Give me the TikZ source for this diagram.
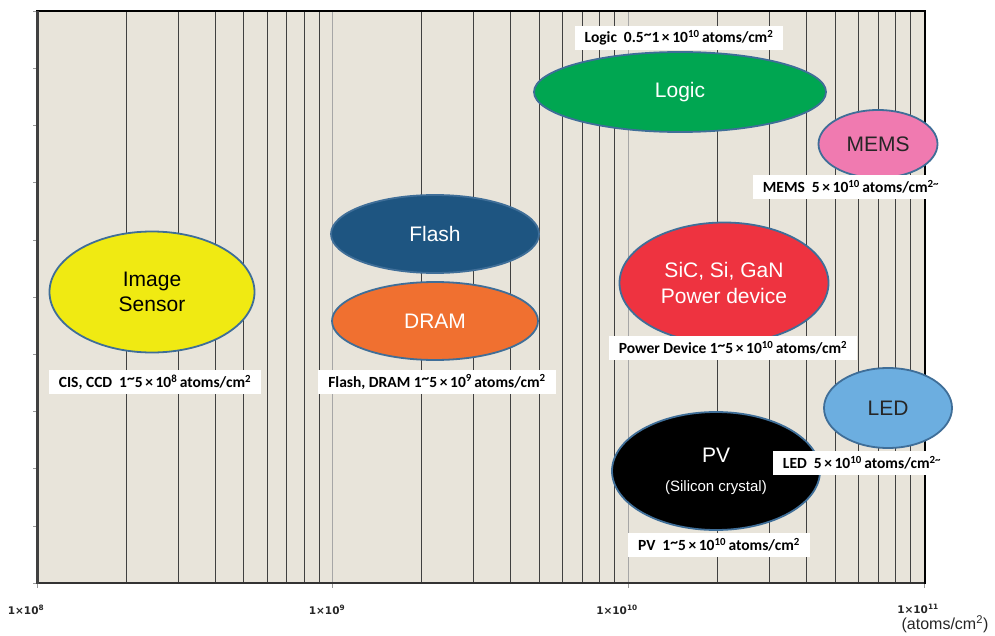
\documentclass[tikz,border=0pt]{standalone}
\usepackage{fontspec}
\setmainfont{Liberation Sans}
\newfontfamily\lblfont{Carlito}
\newfontfamily\axfont{DejaVu Sans}
\usetikzlibrary{shapes.geometric}
\definecolor{plotbg}{HTML}{E8E4DA}
\definecolor{edgeblue}{HTML}{3F6E98}
\definecolor{sensoryellow}{HTML}{F0EA12}
\definecolor{flashblue}{HTML}{1E5581}
\definecolor{dramorange}{HTML}{F07030}
\definecolor{logicgreen}{HTML}{00A651}
\definecolor{memspink}{HTML}{F07AB0}
\definecolor{powerred}{HTML}{EE3340}
\definecolor{ledblue}{HTML}{6CAEE0}
\newcommand\wave{\raisebox{0.45ex}{\textasciitilde}}

\begin{document}
\begin{tikzpicture}[x=1pt,y=-1pt,
	blob/.style={ellipse, draw=edgeblue, line width=1.8pt, inner sep=0pt, align=center,
		font=\fontsize{21}{25}\selectfont},
	tag/.style={fill=white, inner xsep=10pt, minimum height=24pt,
		font=\lblfont\bfseries\fontsize{15.5}{17}\selectfont},
	axlbl/.style={font=\axfont\bfseries\fontsize{10.5}{13}\selectfont, text=black!85}]
	\useasboundingbox (0,0) rectangle (995,636);
	\fill[plotbg] (37,11) rectangle (925,583);
	% grid, one decade = 295.7
	\foreach \d in {0,1,2} {
		\foreach \k in {2,...,9} {
			\draw[black!75, line width=0.9pt] ({37+295.7*(\d+log10(\k))},11) -- ({37+295.7*(\d+log10(\k))},583);
		}
	}
	\draw[black!35, line width=0.8pt] (332,11) -- (332,583);
	\draw[black!35, line width=0.8pt] (628,11) -- (628,583);
	\foreach \i in {0,...,10} {
		\draw[black!40] (33,{11+57.2*\i}) -- (37,{11+57.2*\i});
	}
	\foreach \x in {37,332,628,924} {
		\draw[black!40] (\x,583) -- (\x,588);
	}
	\draw[line width=2.5pt] (36,11) -- (926,11);
	\draw[black!80, line width=2pt] (37,583) -- (925,583);
	\draw[black!75, line width=3pt] (37,11) -- (37,584);
	\draw[line width=2.5pt] (925,11) -- (925,584);

	\node[blob, fill=sensoryellow, minimum width=205, minimum height=121] (sensor) at (152,292) {Image\\Sensor};
	\node[blob, fill=flashblue, text=white, minimum width=208, minimum height=78] (flash) at (435,234) {Flash};
	\node[blob, fill=dramorange, text=white, minimum width=206, minimum height=78] (dram) at (435,321) {DRAM};
	\node[blob, fill=logicgreen, text=white, minimum width=292, minimum height=80] (logic) at (680,92) {Logic};
	\node[blob, fill=memspink, text=black!85, minimum width=119, minimum height=68] (mems) at (878,144) {MEMS};
	\node[blob, fill=powerred, text=white, minimum width=209, minimum height=121,
		font=\fontsize{21}{26}\selectfont] (power) at (724,283) {SiC, Si, GaN\\Power device};
	\node[blob, fill=ledblue, text=black!85, minimum width=128, minimum height=80] (led) at (888,408) {LED};
	\node[blob, fill=black, text=white, minimum width=208, minimum height=118] (pv) at (716,471)
		{PV\\[4pt]{\fontsize{15}{17}\selectfont (Silicon crystal)}};

	\node[tag] (logictag) at (679,38) {Logic~~0.5\wave1\,×\,10\textsuperscript{10}\,atoms/cm\textsuperscript{2}};
	\node[tag] (memstag) at (851,187) {MEMS~~5\,×\,10\textsuperscript{10}\,atoms/cm\textsuperscript{2\textasciitilde}};
	\node[tag] (sensortag) at (155,382) {CIS, CCD~~1\wave5\,×\,10\textsuperscript{8}\,atoms/cm\textsuperscript{2}};
	\node[tag] (memorytag) at (437,382) {Flash, DRAM 1\wave5\,×\,10\textsuperscript{9}\,atoms/cm\textsuperscript{2}};
	\node[tag] (powertag) at (733,348) {Power Device 1\wave5\,×\,10\textsuperscript{10}\,atoms/cm\textsuperscript{2}};
	\node[tag] (ledtag) at (862,463) {LED~~5\,×\,10\textsuperscript{10}\,atoms/cm\textsuperscript{2\textasciitilde}};
	\node[tag] (pvtag) at (719,545) {PV~~1\wave5\,×\,10\textsuperscript{10}\,atoms/cm\textsuperscript{2}};

	\node[axlbl] (e8) at (26,610) {1×10\textsuperscript{8}};
	\node[axlbl] (e9) at (327,610) {1×10\textsuperscript{9}};
	\node[axlbl] (e10) at (617,610) {1×10\textsuperscript{10}};
	\node[axlbl] (e11) at (918,609) {1×10\textsuperscript{11}};
	\node[font=\fontsize{16}{18}\selectfont, text=black!85] (unit) at (945,624) {(atoms/cm\textsuperscript{2})};
\end{tikzpicture}
\end{document}
